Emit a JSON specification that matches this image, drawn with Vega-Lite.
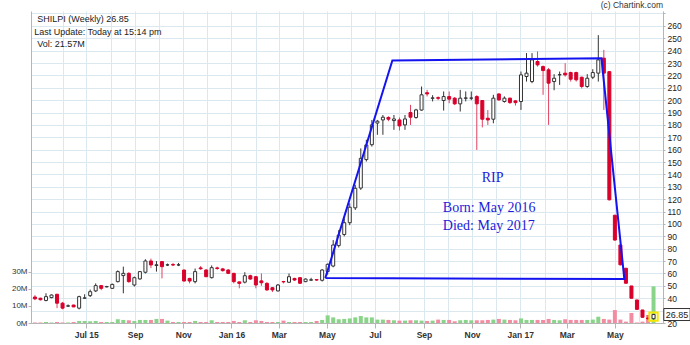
{
"$schema": "https://vega.github.io/schema/vega-lite/v6.json",
"width": 632, "height": 312,
"autosize": {"type": "none"},
"padding": {"left": 31, "top": 11, "right": 27, "bottom": 22},
"background": "white",
"config": {
  "font": "Liberation Sans",
  "view": {"stroke": null},
  "axis": {"domainColor": "#b5b5b5", "tickColor": "#b5b5b5", "gridColor": "#dbe8f0", "labelColor": "#333", "labelFontSize": 8}
},
"datasets": {
 "candles": [
  {"date":"2015-04-27","open":41,"high":42.5,"low":38.5,"close":39.5,"vol":0.3},
  {"date":"2015-05-04","open":40,"high":40.5,"low":38.2,"close":38.8,"vol":0.3},
  {"date":"2015-05-11","open":38.2,"high":44,"low":37.5,"close":41.3,"vol":0.6},
  {"date":"2015-05-18","open":40.5,"high":43,"low":40,"close":42.6,"vol":0.3},
  {"date":"2015-05-25","open":43.2,"high":43.5,"low":32,"close":36,"vol":0.6},
  {"date":"2015-06-01","open":36,"high":37,"low":31,"close":32,"vol":0.3},
  {"date":"2015-06-08","open":33.6,"high":35,"low":33,"close":33.9,"vol":0.3},
  {"date":"2015-06-15","open":34.5,"high":34.8,"low":32.8,"close":33,"vol":0.6},
  {"date":"2015-06-22","open":32,"high":42,"low":31,"close":41.3,"vol":1.2},
  {"date":"2015-06-29","open":40,"high":43.2,"low":39.5,"close":40.3,"vol":1.2},
  {"date":"2015-07-06","open":42.1,"high":47,"low":41,"close":45.3,"vol":1.0},
  {"date":"2015-07-13","open":45.9,"high":52,"low":45,"close":50.2,"vol":1.2},
  {"date":"2015-07-20","open":50.2,"high":50.5,"low":46.5,"close":48,"vol":0.6},
  {"date":"2015-07-27","open":49.2,"high":50,"low":48.8,"close":49.4,"vol":0.6},
  {"date":"2015-08-03","open":48,"high":51.8,"low":47.5,"close":51.2,"vol":0.6},
  {"date":"2015-08-10","open":53.4,"high":62.5,"low":52.8,"close":61.5,"vol":2.2},
  {"date":"2015-08-17","open":58.3,"high":65.5,"low":44,"close":60.1,"vol":1.8},
  {"date":"2015-08-24","open":60.1,"high":61,"low":52.5,"close":53.4,"vol":1.6},
  {"date":"2015-08-31","open":50.7,"high":57.5,"low":49.5,"close":56.6,"vol":1.2},
  {"date":"2015-09-07","open":55.6,"high":62,"low":55,"close":61.5,"vol":1.8},
  {"date":"2015-09-14","open":61,"high":71.5,"low":60,"close":70.1,"vol":1.8},
  {"date":"2015-09-21","open":70.1,"high":72,"low":64.3,"close":66.9,"vol":1.8},
  {"date":"2015-09-28","open":66.5,"high":70,"low":61.5,"close":67,"vol":2.4},
  {"date":"2015-10-05","open":69.6,"high":70,"low":56,"close":65.5,"vol":2.4},
  {"date":"2015-10-12","open":66.8,"high":68,"low":66,"close":67,"vol":1.4},
  {"date":"2015-10-19","open":67.2,"high":68.5,"low":66,"close":66.8,"vol":0.6},
  {"date":"2015-10-26","open":66.8,"high":68.5,"low":66,"close":67,"vol":0.6},
  {"date":"2015-11-02","open":62.8,"high":63,"low":53.5,"close":53.9,"vol":0.6},
  {"date":"2015-11-09","open":56,"high":56.5,"low":52,"close":53.9,"vol":0.6},
  {"date":"2015-11-16","open":53.4,"high":64,"low":52,"close":61.5,"vol":1.2},
  {"date":"2015-11-23","open":64.5,"high":66,"low":63,"close":63.8,"vol":0.6},
  {"date":"2015-11-30","open":62.8,"high":63.5,"low":57,"close":57.4,"vol":0.6},
  {"date":"2015-12-07","open":56.6,"high":66.5,"low":56,"close":64.7,"vol":1.6},
  {"date":"2015-12-14","open":64.5,"high":65.5,"low":63,"close":64,"vol":0.6},
  {"date":"2015-12-21","open":63.7,"high":64.5,"low":61.5,"close":62.3,"vol":0.6},
  {"date":"2015-12-28","open":62.8,"high":63.5,"low":59.5,"close":60.1,"vol":0.6},
  {"date":"2016-01-04","open":60.1,"high":60.5,"low":52,"close":53.4,"vol":1.2},
  {"date":"2016-01-11","open":53.2,"high":53.5,"low":48,"close":52,"vol":0.6},
  {"date":"2016-01-18","open":53,"high":61,"low":52,"close":58.2,"vol":1.6},
  {"date":"2016-01-25","open":58.2,"high":59,"low":55,"close":55.5,"vol":0.6},
  {"date":"2016-02-01","open":57.4,"high":58,"low":48,"close":50.7,"vol":1.6},
  {"date":"2016-02-08","open":54,"high":60,"low":50,"close":52.5,"vol":1.2},
  {"date":"2016-02-15","open":52,"high":53,"low":46,"close":46.7,"vol":0.6},
  {"date":"2016-02-22","open":48.5,"high":49,"low":45,"close":46.7,"vol":0.6},
  {"date":"2016-02-29","open":45.9,"high":51.5,"low":45.5,"close":50.7,"vol":0.6},
  {"date":"2016-03-07","open":53.5,"high":54,"low":52,"close":53.2,"vol":1.4},
  {"date":"2016-03-14","open":52.9,"high":60,"low":52.5,"close":57.4,"vol":0.6},
  {"date":"2016-03-21","open":56,"high":56.5,"low":54,"close":54.7,"vol":0.6},
  {"date":"2016-03-28","open":56.6,"high":57,"low":51.5,"close":52.1,"vol":0.6},
  {"date":"2016-04-04","open":53.4,"high":56,"low":53,"close":55.5,"vol":0.6},
  {"date":"2016-04-11","open":54.6,"high":56.5,"low":54,"close":54.9,"vol":0.6},
  {"date":"2016-04-18","open":55,"high":55.5,"low":54,"close":54.7,"vol":1.2},
  {"date":"2016-04-25","open":54.5,"high":63.5,"low":53.5,"close":62.8,"vol":1.8},
  {"date":"2016-05-02","open":61.5,"high":68,"low":59,"close":67.4,"vol":4.5},
  {"date":"2016-05-09","open":66,"high":87,"low":65,"close":83,"vol":3.3},
  {"date":"2016-05-16","open":82.5,"high":95,"low":81,"close":91,"vol":2.2},
  {"date":"2016-05-23","open":91.5,"high":104.5,"low":90,"close":101,"vol":2.4},
  {"date":"2016-05-30","open":101,"high":116.7,"low":99,"close":113.5,"vol":2.7},
  {"date":"2016-06-06","open":113,"high":131.5,"low":111.3,"close":128.8,"vol":3.3},
  {"date":"2016-06-13","open":129,"high":161,"low":127.5,"close":153,"vol":4.1},
  {"date":"2016-06-20","open":152,"high":168,"low":150.4,"close":163.8,"vol":3.3},
  {"date":"2016-06-27","open":164,"high":184,"low":162.5,"close":180,"vol":3.3},
  {"date":"2016-07-04","open":181.5,"high":184,"low":172,"close":183,"vol":2.0},
  {"date":"2016-07-11","open":184,"high":188,"low":172,"close":186.2,"vol":2.0},
  {"date":"2016-07-18","open":186,"high":187,"low":183,"close":184.6,"vol":1.8},
  {"date":"2016-07-25","open":183.5,"high":188,"low":176,"close":184.8,"vol":1.6},
  {"date":"2016-08-01","open":184,"high":186,"low":175.5,"close":179.2,"vol":1.4},
  {"date":"2016-08-08","open":180,"high":188,"low":176,"close":184.8,"vol":1.4},
  {"date":"2016-08-15","open":190,"high":196.2,"low":180,"close":186.2,"vol":1.6},
  {"date":"2016-08-22","open":186,"high":193,"low":185,"close":192.1,"vol":1.6},
  {"date":"2016-08-29","open":192,"high":211,"low":191.5,"close":204.3,"vol":1.4},
  {"date":"2016-09-05","open":206,"high":208.3,"low":203,"close":205,"vol":1.2},
  {"date":"2016-09-12","open":201.5,"high":204,"low":199,"close":201.8,"vol":1.4},
  {"date":"2016-09-19","open":202,"high":203,"low":200,"close":201.5,"vol":2.0},
  {"date":"2016-09-26","open":199.7,"high":207,"low":191.6,"close":202.9,"vol":1.8},
  {"date":"2016-10-03","open":202.9,"high":207,"low":197.5,"close":200.8,"vol":1.8},
  {"date":"2016-10-10","open":201.6,"high":202.5,"low":196,"close":197,"vol":1.0},
  {"date":"2016-10-17","open":197,"high":208.3,"low":190.8,"close":201.6,"vol":1.6},
  {"date":"2016-10-24","open":201.5,"high":207,"low":199,"close":201.8,"vol":1.8},
  {"date":"2016-10-31","open":201.6,"high":207,"low":200,"close":201.7,"vol":1.6},
  {"date":"2016-11-07","open":202.9,"high":204,"low":159.8,"close":197,"vol":1.6},
  {"date":"2016-11-14","open":199.7,"high":200,"low":178,"close":184.6,"vol":1.6},
  {"date":"2016-11-21","open":185.4,"high":192,"low":180,"close":184,"vol":1.8},
  {"date":"2016-11-28","open":184.6,"high":204.3,"low":181.3,"close":201.6,"vol":2.0},
  {"date":"2016-12-05","open":205,"high":205.5,"low":199.5,"close":200.2,"vol":2.4},
  {"date":"2016-12-12","open":198.9,"high":203,"low":198,"close":201.6,"vol":2.0},
  {"date":"2016-12-19","open":201.6,"high":202,"low":197,"close":198,"vol":1.8},
  {"date":"2016-12-26","open":199.4,"high":200,"low":195.6,"close":198,"vol":1.6},
  {"date":"2017-01-02","open":198.9,"high":223.1,"low":192.1,"close":220.4,"vol":2.7},
  {"date":"2017-01-09","open":219.1,"high":238,"low":215,"close":221.8,"vol":1.8},
  {"date":"2017-01-16","open":215,"high":238,"low":213.7,"close":232.5,"vol":1.8},
  {"date":"2017-01-23","open":231.2,"high":239.3,"low":227.1,"close":228.5,"vol":1.8},
  {"date":"2017-01-30","open":227.1,"high":228,"low":204.3,"close":223.9,"vol":1.8},
  {"date":"2017-02-06","open":224.5,"high":226,"low":180,"close":213.7,"vol":2.4},
  {"date":"2017-02-13","open":215,"high":221,"low":208,"close":217.7,"vol":1.8},
  {"date":"2017-02-20","open":220.4,"high":223.1,"low":212.3,"close":220.6,"vol":1.6},
  {"date":"2017-02-27","open":221.8,"high":229.8,"low":219,"close":220.4,"vol":2.2},
  {"date":"2017-03-06","open":222.3,"high":223,"low":215,"close":216.9,"vol":1.8},
  {"date":"2017-03-13","open":222.3,"high":223,"low":215,"close":216.4,"vol":1.8},
  {"date":"2017-03-20","open":218.5,"high":219,"low":209.5,"close":211,"vol":1.8},
  {"date":"2017-03-27","open":211,"high":221,"low":210,"close":217.7,"vol":1.8},
  {"date":"2017-04-03","open":218.5,"high":225,"low":217,"close":222.3,"vol":2.0},
  {"date":"2017-04-10","open":221.8,"high":252.5,"low":215,"close":232.5,"vol":3.7},
  {"date":"2017-04-17","open":233.9,"high":240.6,"low":192.1,"close":221.8,"vol":2.4},
  {"date":"2017-04-24","open":223,"high":223.5,"low":119,"close":119.5,"vol":2.0},
  {"date":"2017-05-01","open":107,"high":107.5,"low":86.5,"close":87,"vol":7.6},
  {"date":"2017-05-08","open":83,"high":83.5,"low":66.5,"close":67,"vol":2.0},
  {"date":"2017-05-15","open":64.2,"high":64.5,"low":52,"close":52.1,"vol":0.8},
  {"date":"2017-05-22","open":49.9,"high":50,"low":39.8,"close":40,"vol":5.9},
  {"date":"2017-05-29","open":38.6,"high":38.8,"low":30.8,"close":31,"vol":0.3},
  {"date":"2017-06-05","open":30.5,"high":30.7,"low":24.4,"close":24.6,"vol":0.8},
  {"date":"2017-06-12","open":24,"high":26.5,"low":22.5,"close":23.5,"vol":4.7},
  {"date":"2017-06-19","open":23.5,"high":27.5,"low":22.5,"close":26.85,"vol":21.57}
 ],
 "shape": [
  {"date":"2016-04-29","price":56.3,"k":0},
  {"date":"2016-07-23","price":232,"k":1},
  {"date":"2017-04-14","price":233.8,"k":2},
  {"date":"2017-05-13","price":55.5,"k":3},
  {"date":"2016-04-29","price":56.3,"k":4}
 ],
 "header": [
  {"text":"SHILPI (Weekly) 26.85","date":"2015-04-30","price":265.4},
  {"text":"Last Update: Today at 15:14 pm","date":"2015-04-26","price":255.2},
  {"text":"Vol: 21.57M","date":"2015-04-30","price":245.7}
 ],
 "credit": [{"text":"(c) Chartink.com","date":"2017-07-01","price":277}],
 "rip": [{"text":"RIP","date":"2016-11-27","price":136.9}],
 "life": [
  {"text":"Born: May 2016","date":"2016-09-25","price":112.7},
  {"text":"Died: May 2017","date":"2016-09-25","price":98.6}
 ],
 "last": [{"date":"2017-06-19","price":25.2,"label":"26.85","edge":"2017-07-01","lp":26.85}]
},
"layer": [
 {
  "data": {"name": "candles"},
  "mark": {"type": "bar", "size": 4},
  "encoding": {
   "x": {"field": "date", "type": "temporal", "title": null,
     "scale": {"domain": ["2015-04-22", "2017-07-01"], "padding": 0},
     "axis": {
       "grid": true, "gridColor": "#dbe8f0", "tickSize": 5, "labelPadding": 2,
       "labelFontWeight": "bold", "labelFontSize": 8.5, "labelColor": "#333",
       "tickCount": {"interval": "month", "step": 1},
       "labelExpr": "(datum.value < datetime(2015,4,15) || datum.value > datetime(2017,5,15) || month(datum.value) % 2 == 1) ? '' : ((month(datum.value) == 0 || (year(datum.value) == 2015 && month(datum.value) == 6)) ? timeFormat(datum.value, '%b %y') : timeFormat(datum.value, '%b'))",
       "tickOpacity": {"condition": {"test": "month(datum.value) % 2 == 1 || datum.value < datetime(2015,4,15) || datum.value > datetime(2017,5,15)", "value": 0}, "value": 1},
       "gridOpacity": {"condition": {"test": "datum.value < datetime(2015,4,15)", "value": 0}, "value": 1}
     }},
   "y": {"field": "vol", "type": "quantitative", "title": null,
     "scale": {"domain": [0, 183.5], "nice": false},
     "axis": {"orient": "left", "values": [0, 10, 20, 30], "labelExpr": "datum.value + 'M'", "grid": false, "tickSize": 3, "labelPadding": 1, "labelFontSize": 8, "labelColor": "#333"}},
   "color": {"condition": {"test": "datum.close < datum.open", "value": "#f28ca2"}, "value": "#8ad48a"}
  }
 },
 {
  "data": {"name": "candles"},
  "mark": {"type": "rule", "strokeWidth": 1},
  "encoding": {
   "x": {"field": "date", "type": "temporal", "title": null},
   "y": {"field": "low", "type": "quantitative", "title": null,
     "scale": {"domain": [20, 272], "nice": false, "zero": false},
     "axis": {"orient": "right", "grid": true, "gridColor": "#dbe8f0", "values": [20,30,40,50,60,70,80,90,100,110,120,130,140,150,160,170,180,190,200,210,220,230,240,250,260,270],
       "labelExpr": "datum.value > 265 ? '' : datum.value", "tickSize": 2, "labelPadding": 2, "labelFontSize": 8.5, "labelColor": "#222"}},
   "y2": {"field": "high"},
   "color": {"condition": {"test": "datum.close < datum.open", "value": "#e2405f"}, "value": "#333333"}
  }
 },
 {
  "data": {"name": "candles"},
  "mark": {"type": "bar", "size": 3, "strokeWidth": 1},
  "encoding": {
   "x": {"field": "date", "type": "temporal", "title": null},
   "y": {"field": "open", "type": "quantitative", "axis": null, "scale": {"domain": [20, 272], "nice": false, "zero": false}},
   "y2": {"field": "close"},
   "fill": {"condition": {"test": "datum.close < datum.open", "value": "#d9002b"}, "value": "#ffffff"},
   "stroke": {"condition": {"test": "datum.close < datum.open", "value": "#d9002b"}, "value": "#333333"}
  }
 },
 {
  "data": {"name": "shape"},
  "mark": {"type": "line", "color": "#1414f0", "strokeWidth": 2},
  "encoding": {
   "x": {"field": "date", "type": "temporal", "title": null},
   "y": {"field": "price", "type": "quantitative", "axis": null, "scale": {"domain": [20, 272], "nice": false, "zero": false}},
   "order": {"field": "k"}
  }
 },
 {
  "data": {"name": "last"},
  "mark": {"type": "point", "shape": "square", "filled": false, "stroke": "#f5e600", "strokeWidth": 2, "size": 70, "opacity": 1},
  "encoding": {
   "x": {"field": "date", "type": "temporal", "title": null},
   "y": {"field": "price", "type": "quantitative", "axis": null, "scale": {"domain": [20, 272], "nice": false, "zero": false}}
  }
 },
 {
  "data": {"name": "last"},
  "mark": {"type": "point", "shape": "M -1.1 -0.5 L 1.1 -0.5 L 1.1 0.5 L -1.1 0.5 Z", "filled": true, "fill": "#ffffff", "stroke": "#333333", "strokeWidth": 1, "size": 576, "opacity": 1, "xOffset": 14},
  "encoding": {
   "x": {"field": "edge", "type": "temporal", "title": null},
   "y": {"field": "lp", "type": "quantitative", "axis": null, "scale": {"domain": [20, 272], "nice": false, "zero": false}}
  }
 },
 {
  "data": {"name": "last"},
  "mark": {"type": "text", "dx": 14, "align": "center", "baseline": "middle", "fontSize": 9, "color": "#222"},
  "encoding": {
   "x": {"field": "edge", "type": "temporal", "title": null},
   "y": {"field": "lp", "type": "quantitative", "axis": null, "scale": {"domain": [20, 272], "nice": false, "zero": false}},
   "text": {"field": "label"}
  }
 },
 {
  "data": {"name": "header"},
  "mark": {"type": "text", "align": "left", "baseline": "middle", "fontSize": 9, "color": "#222"},
  "encoding": {
   "x": {"field": "date", "type": "temporal", "title": null},
   "y": {"field": "price", "type": "quantitative", "axis": null, "scale": {"domain": [20, 272], "nice": false, "zero": false}},
   "text": {"field": "text"}
  }
 },
 {
  "data": {"name": "credit"},
  "mark": {"type": "text", "align": "right", "baseline": "middle", "fontSize": 8.5, "color": "#333"},
  "encoding": {
   "x": {"field": "date", "type": "temporal", "title": null},
   "y": {"field": "price", "type": "quantitative", "axis": null, "scale": {"domain": [20, 272], "nice": false, "zero": false}},
   "text": {"field": "text"}
  }
 },
 {
  "data": {"name": "rip"},
  "mark": {"type": "text", "align": "center", "baseline": "middle", "fontSize": 14, "font": "Liberation Serif", "color": "#1c1cd8"},
  "encoding": {
   "x": {"field": "date", "type": "temporal", "title": null},
   "y": {"field": "price", "type": "quantitative", "axis": null, "scale": {"domain": [20, 272], "nice": false, "zero": false}},
   "text": {"field": "text"}
  }
 },
 {
  "data": {"name": "life"},
  "mark": {"type": "text", "align": "left", "baseline": "middle", "fontSize": 14, "font": "Liberation Serif", "color": "#1c1cd8"},
  "encoding": {
   "x": {"field": "date", "type": "temporal", "title": null},
   "y": {"field": "price", "type": "quantitative", "axis": null, "scale": {"domain": [20, 272], "nice": false, "zero": false}},
   "text": {"field": "text"}
  }
 }
],
"resolve": {"scale": {"y": "independent"}, "axis": {"y": "independent"}}
}
